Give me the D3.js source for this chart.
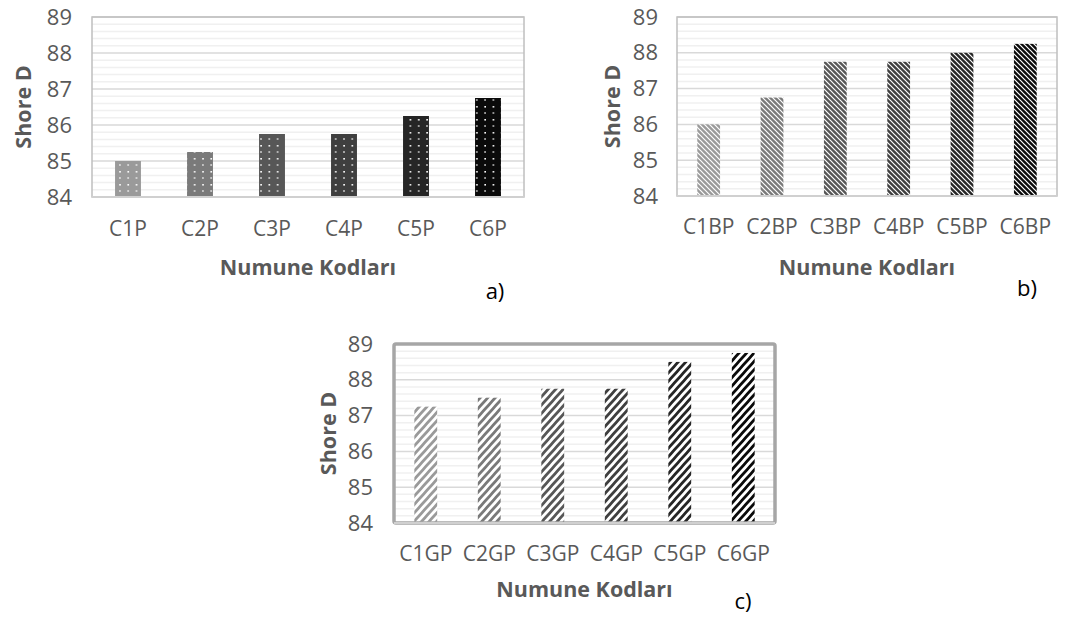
<!DOCTYPE html>
<html>
<head>
<meta charset="utf-8">
<title>Shore D</title>
<style>
  body { margin: 0; background: #fff; font-family: "Open Sans", sans-serif; }
  text { fill: #595959; }
</style>
<script src="https://d3js.org/d3.v7.min.js"></script>
</head>
<body>
<script>
// values
var catsA = ["C1P", "C2P", "C3P", "C4P", "C5P", "C6P"];
var valsA = [85, 85.25, 85.75, 85.75, 86.25, 86.75];
var catsB = ["C1BP", "C2BP", "C3BP", "C4BP", "C5BP", "C6BP"];
var valsB = [86, 86.75, 87.75, 87.75, 88, 88.25];
var catsC = ["C1GP", "C2GP", "C3GP", "C4GP", "C5GP", "C6GP"];
var valsC = [87.25, 87.5, 87.75, 87.75, 88.5, 88.75];
var yTicks = [84, 85, 86, 87, 88, 89];
var shades = ["#9a9a9a", "#7a7a7a", "#575757", "#3f3f3f", "#262626", "#0a0a0a"];

var width = 1080, height = 617;
var svg = d3.select("body").append("svg")
    .attr("width", width)
    .attr("height", height);
var defs = svg.append("defs");

// patterns: dots (a), white back-diagonal (b), coloured forward stripes (c)
shades.forEach(function(c, i) {
    var p = defs.append("pattern").attr("id", "dot" + i)
        .attr("patternUnits", "userSpaceOnUse")
        .attr("width", 8.3).attr("height", 13);
    p.append("rect").attr("width", 8.3).attr("height", 13).attr("fill", c);
    p.append("rect").attr("x", 3).attr("y", 2).attr("width", 1.6).attr("height", 1.6).attr("fill", "#fff");
    p.append("rect").attr("x", 3.2).attr("y", 8).attr("width", 1).attr("height", 2).attr("fill", "#fff");

    var q = defs.append("pattern").attr("id", "bd" + i)
        .attr("patternUnits", "userSpaceOnUse")
        .attr("width", 5).attr("height", 5);
    q.append("rect").attr("width", 5).attr("height", 5).attr("fill", c);
    q.append("path").attr("d", "M-1,-1 L6,6 M-1,4 L1,6 M4,-1 L6,1")
        .attr("stroke", "#fff").attr("stroke-width", 1.2);

    var s = defs.append("pattern").attr("id", "st" + i)
        .attr("patternUnits", "userSpaceOnUse")
        .attr("width", 5.6).attr("height", 6)
        .attr("patternTransform", "rotate(42)");
    s.append("rect").attr("width", 5.6).attr("height", 6).attr("fill", "#fff");
    s.append("rect").attr("width", 2.8).attr("height", 6).attr("fill", c);
});

function drawChart(cfg) {
    var g = svg.append("g");
    var x = d3.scaleBand().domain(cfg.cats).range([cfg.x0, cfg.x1])
        .paddingInner(0.64).paddingOuter(0.32);
    var y = d3.scaleLinear().domain([84, 89]).range([cfg.y1, cfg.y0]);

    // minor grid every 0.2
    var minor = d3.range(84.2, 89, 0.2).filter(function(v) { return Math.abs(v - Math.round(v)) > 0.01; });
    g.selectAll(".minor").data(minor).enter().append("line")
        .attr("x1", cfg.x0).attr("x2", cfg.x1)
        .attr("y1", function(d) { return y(d); }).attr("y2", function(d) { return y(d); })
        .attr("stroke", "#f0f0f0").attr("stroke-width", 1.5);
    g.selectAll(".major").data(yTicks).enter().append("line")
        .attr("x1", cfg.x0).attr("x2", cfg.x1)
        .attr("y1", function(d) { return y(d); }).attr("y2", function(d) { return y(d); })
        .attr("stroke", "#d9d9d9").attr("stroke-width", 1.5);

    g.selectAll(".bar").data(cfg.vals).enter().append("rect")
        .attr("x", function(d, i) { return x(cfg.cats[i]); })
        .attr("width", x.bandwidth())
        .attr("y", function(d) { return y(d); })
        .attr("height", function(d) { return y(84) - y(d); })
        .attr("fill", function(d, i) { return "url(#" + cfg.pat + i + ")"; });

    // frame
    g.append("rect").attr("x", cfg.x0).attr("y", cfg.y0)
        .attr("width", cfg.x1 - cfg.x0).attr("height", cfg.y1 - cfg.y0)
        .attr("fill", "none").attr("stroke", cfg.frameColor)
        .attr("stroke-width", cfg.frameWidth).attr("rx", cfg.frameWidth > 2 ? 2 : 0);
    g.append("line").attr("x1", cfg.x0).attr("x2", cfg.x1)
        .attr("y1", y(84)).attr("y2", y(84))
        .attr("stroke", "#d0d0d0").attr("stroke-width", 2);

    // y axis labels
    var yAxis = d3.axisLeft(y).tickValues(yTicks).tickFormat(d3.format("d"))
        .tickSize(0).tickPadding(cfg.yPad);
    var ya = g.append("g").attr("transform", "translate(" + cfg.x0 + ",0)").call(yAxis);
    ya.select(".domain").remove();
    ya.attr("font-size", 22).attr("font-family", "Open Sans");
    ya.selectAll("text").style("fill", "#595959");

    // x axis labels
    var xAxis = d3.axisBottom(x).tickSize(0).tickPadding(cfg.xPad);
    var xa = g.append("g").attr("transform", "translate(0," + cfg.y1 + ")").call(xAxis);
    xa.select(".domain").remove();
    xa.attr("font-size", 21).attr("font-family", "Open Sans");
    xa.selectAll("text").style("fill", "#595959");

    g.append("text")
        .attr("transform", "translate(" + cfg.ytX + "," + ((cfg.y0 + cfg.y1) / 2) + ") rotate(-90)")
        .attr("text-anchor", "middle").attr("dominant-baseline", "central")
        .attr("font-size", 21.5).attr("font-weight", "bold")
        .text("Shore D");
    g.append("text")
        .attr("x", (cfg.x0 + cfg.x1) / 2).attr("y", cfg.titleY)
        .attr("text-anchor", "middle").attr("dominant-baseline", "central")
        .attr("font-size", 21.5).attr("font-weight", "bold")
        .text("Numune Kodları");
    g.append("text")
        .attr("x", cfg.tagX).attr("y", cfg.tagY)
        .attr("text-anchor", "middle").attr("dominant-baseline", "central")
        .attr("font-size", 22)
        .style("fill", "#000")
        .text(cfg.tag);
}

drawChart({cats: catsA, vals: valsA, pat: "dot", x0: 92, x1: 524, y0: 17, y1: 197,
    yPad: 20, xPad: 24, ytX: 22, titleY: 266, tagX: 495, tagY: 290, tag: "a)",
    frameColor: "#bfbfbf", frameWidth: 1.5});
drawChart({cats: catsB, vals: valsB, pat: "bd", x0: 677, x1: 1057, y0: 17, y1: 196,
    yPad: 19, xPad: 23, ytX: 611, titleY: 266, tagX: 1027, tagY: 287, tag: "b)",
    frameColor: "#bfbfbf", frameWidth: 1.5});
drawChart({cats: catsC, vals: valsC, pat: "st", x0: 394, x1: 775, y0: 344, y1: 523,
    yPad: 21, xPad: 23, ytX: 327, titleY: 588, tagX: 743, tagY: 600, tag: "c)",
    frameColor: "#a6a6a6", frameWidth: 3.5});
</script>
</body>
</html>
